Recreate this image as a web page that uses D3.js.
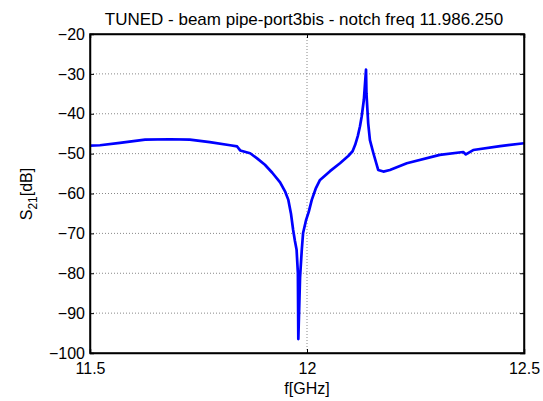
<!DOCTYPE html>
<html><head><meta charset="utf-8">
<script src="https://cdn.jsdelivr.net/npm/d3@7"></script>
<style>body{margin:0;background:#fff}svg text{font-family:Arial,"Liberation Sans",sans-serif}</style>
</head><body><svg id="c" width="543" height="401"></svg>
<script>
const title = "TUNED - beam pipe-port3bis - notch freq 11.986.250";
const xTicks = [11.5, 12, 12.5];
const yTicks = [-20, -30, -40, -50, -60, -70, -80, -90, -100];
const freq = [11.5,11.523,11.569,11.627,11.684,11.730,11.776,11.823,11.839,11.846,11.869,11.885,11.903,11.920,11.938,11.950,11.957,11.963,11.968,11.972,11.976,11.979,11.980,11.984,11.988,11.991,11.998,12.004,12.011,12.020,12.030,12.053,12.076,12.095,12.105,12.111,12.117,12.122,12.126,12.131,12.136,12.137,12.141,12.145,12.153,12.164,12.176,12.191,12.230,12.306,12.360,12.366,12.383,12.445,12.5];
const s21  = [-48,-47.9,-47.3,-46.5,-46.4,-46.5,-47.1,-47.9,-48.2,-49.2,-49.9,-51.2,-52.8,-54.8,-57.2,-59.6,-61.6,-65,-69.1,-71.8,-74.1,-79.9,-96.5,-81,-74.1,-69.9,-66.6,-64.6,-61.6,-58.8,-56.6,-54.4,-52.4,-50.6,-49.4,-47.8,-45.6,-43.2,-40.7,-36.5,-28.9,-34.9,-42.4,-46.6,-49.9,-54.1,-54.5,-54.1,-52.4,-50.3,-49.6,-50.2,-49.1,-48.1,-47.4];

const svg = d3.select("#c");
const L=90,R=524,T=34,B=353;
const x = d3.scaleLinear().domain([11.5,12.5]).range([L,R]);
const y = d3.scaleLinear().domain([-100,-20]).range([B,T]);
const fs = 16;

// grid
const g = svg.append("g");
g.selectAll(".gy").data(yTicks.filter(d=>d>-100&&d<-20)).enter().append("line")
  .attr("x1",L).attr("x2",R).attr("y1",d=>y(d)).attr("y2",d=>y(d))
  .attr("stroke","#888").attr("stroke-width",1).attr("stroke-dasharray","1,2");
g.selectAll(".gx").data(xTicks.filter(d=>d>11.5&&d<12.5)).enter().append("line")
  .attr("y1",T).attr("y2",B).attr("x1",d=>x(d)).attr("x2",d=>x(d))
  .attr("stroke","#888").attr("stroke-width",1).attr("stroke-dasharray","1,2");

// curve
const line = d3.line().x((d,i)=>x(freq[i])).y(d=>y(d));
svg.append("path").datum(s21).attr("d",line).attr("fill","none")
  .attr("stroke","#0000ff").attr("stroke-width",2.7).attr("stroke-linejoin","round");

// axes
const tl = 4;
const ax = svg.append("g").attr("transform",`translate(0,${B})`)
  .call(d3.axisBottom(x).tickValues(xTicks).tickSize(-tl).tickPadding(10).tickFormat(d3.format("")));
const axT = svg.append("g").attr("transform",`translate(0,${T})`)
  .call(d3.axisTop(x).tickValues(xTicks).tickSize(-tl).tickFormat(""));
const ay = svg.append("g").attr("transform",`translate(${L},0)`)
  .call(d3.axisLeft(y).tickValues(yTicks).tickSize(-tl).tickPadding(5));
const ayR = svg.append("g").attr("transform",`translate(${R},0)`)
  .call(d3.axisRight(y).tickValues(yTicks).tickSize(-tl).tickFormat(""));
[ax,axT,ay,ayR].forEach(a=>{
  a.select(".domain").attr("stroke","#000").attr("stroke-width",1.5);
  a.selectAll(".tick line").attr("stroke","#000");
  a.selectAll("text").attr("fill","#000").style("font-size",fs+"px").style("font-family","Arial, 'Liberation Sans', sans-serif");
});
// box
svg.append("rect").attr("x",L).attr("y",T).attr("width",R-L).attr("height",B-T)
  .attr("fill","none").attr("stroke","#000").attr("stroke-width",1.5);

svg.append("text").attr("x",(L+R)/2-3).attr("y",T-9).attr("text-anchor","middle")
  .style("font-size","17px").text(title);
svg.append("text").attr("x",(L+R)/2).attr("y",394).attr("text-anchor","middle")
  .style("font-size",fs+"px").text("f[GHz]");
const yl = svg.append("text").attr("transform","translate(32,194) rotate(-90)").attr("text-anchor","middle")
  .style("font-size",fs+"px");
yl.append("tspan").text("S");
yl.append("tspan").attr("dy",5).style("font-size","12px").text("21");
yl.append("tspan").attr("dy",-5).text("[dB]");
</script></body></html>
